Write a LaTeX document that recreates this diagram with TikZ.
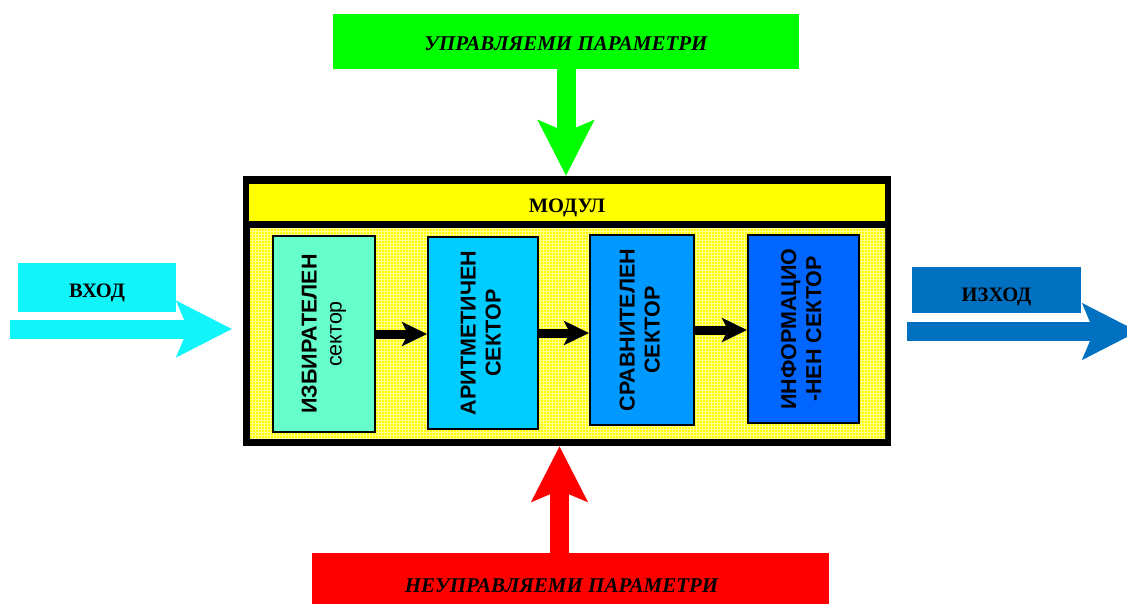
\documentclass[tikz,border=0pt]{standalone}
\usepackage{graphicx}
\usepackage{fontspec}
\setmainfont{Liberation Serif}
\newfontfamily\arialfont{Liberation Sans}
\usetikzlibrary{arrows.meta,patterns}
\definecolor{greenc}{RGB}{0,255,0}
\definecolor{redc}{RGB}{255,0,0}
\definecolor{yellowc}{RGB}{255,255,0}
\definecolor{cyanc}{RGB}{16,244,250}
\definecolor{bluec}{RGB}{0,112,192}
\definecolor{secA}{RGB}{102,255,204}
\definecolor{secB}{RGB}{0,204,255}
\definecolor{secC}{RGB}{0,153,255}
\definecolor{secD}{RGB}{0,102,255}
\tikzset{
  sector/.style={draw=black, line width=2pt, inner sep=0pt, font=\arialfont\fontsize{21.5}{25}\selectfont},
  flowarrow/.style={line width=9pt, -{Stealth[length=25pt,width=24pt,inset=6pt]}},
  bigarrow/.style={line width=19pt, -{Stealth[length=55pt,width=55pt,inset=11pt]}},
  band/.style={inner sep=0pt, font=\bfseries\fontsize{20.5}{24}\selectfont},
  titlebox/.style={inner sep=0pt, font=\bfseries\itshape\fontsize{21}{25}\selectfont},
}
\newcommand{\vtext}[2]{\rotatebox{90}{\begin{tabular}{@{}c@{}}#1\\#2\end{tabular}}}
\begin{document}
\begin{tikzpicture}[x=1pt,y=-1pt]
\useasboundingbox (0,0) rectangle (1127,603);
\clip (0,0) rectangle (1127,603);
\fill[white] (0,0) rectangle (1127,603);

% top and bottom parameter boxes
\node[titlebox, fill=greenc, minimum width=466pt, minimum height=55pt, text height=17pt, text depth=0pt] (up) at (566,41.5) {УПРАВЛЯЕМИ ПАРАМЕТРИ};
\node[titlebox, fill=redc, minimum width=517pt, minimum height=62pt, text height=16pt, text depth=0pt] (down) at (570.5,584) {НЕУПРАВЛЯЕМИ ПАРАМЕТРИ\rule{18pt}{0pt}};

% module
\node[fill=black, inner sep=0pt, minimum width=648pt, minimum height=270pt] (mod) at (567,311) {};
\node[band, fill=yellowc, minimum width=636pt, minimum height=37pt, text height=20pt, text depth=0pt] (modlabel) at (567,202.5) {МОДУЛ};
\fill[yellowc] (250,228) rectangle (885,438);
\fill[pattern=grid, pattern color=yellowc!45!white] (250,228) rectangle (885,438);

% sectors
\node[sector, fill=secA, minimum width=102pt, minimum height=196pt] (b1) at (324,334) {\vtext{\bfseries ИЗБИРАТЕЛЕН}{сектор}};
\node[sector, fill=secB, minimum width=110pt, minimum height=192pt] (b2) at (483,333) {\vtext{\bfseries АРИТМЕТИЧЕН}{\bfseries СЕКТОР}};
\node[sector, fill=secC, minimum width=104pt, minimum height=190pt] (b3) at (642,330) {\vtext{\bfseries СРАВНИТЕЛЕН}{\bfseries СЕКТОР}};
\node[sector, fill=secD, minimum width=111pt, minimum height=188pt] (b4) at (803.5,329) {\vtext{\bfseries ИНФОРМАЦИО}{\bfseries -НЕН СЕКТОР}};

\draw[flowarrow] (b1.east) -- (b1.east -| b2.west);
\draw[flowarrow] (b2.east) -- (b2.east -| b3.west);
\draw[flowarrow] (b3.east) -- (b3.east -| b4.west);

% input / output
\node[band, fill=cyanc, minimum width=158pt, minimum height=49pt, text height=19pt, text depth=0pt] (in) at (97,287.5) {ВХОД};
\node[band, fill=bluec, minimum width=169pt, minimum height=46pt, text height=22pt, text depth=0pt] (out) at (996.5,290) {ИЗХОД};
\coordinate (inA) at (10,329);
\coordinate (inB) at (232,329);
\coordinate (outA) at (907,331.5);
\coordinate (outB) at (1138,331.5);
\draw[bigarrow, cyanc] (inA) -- (inB);
\draw[bigarrow, bluec] (outA) -- (outB);

% parameter arrows
\draw[bigarrow, greenc] (up.south) -- (up.south |- mod.north);
\draw[bigarrow, redc] ([xshift=-11pt]down.north) -- ([xshift=-11pt]down.north |- mod.south);
\end{tikzpicture}
\end{document}
